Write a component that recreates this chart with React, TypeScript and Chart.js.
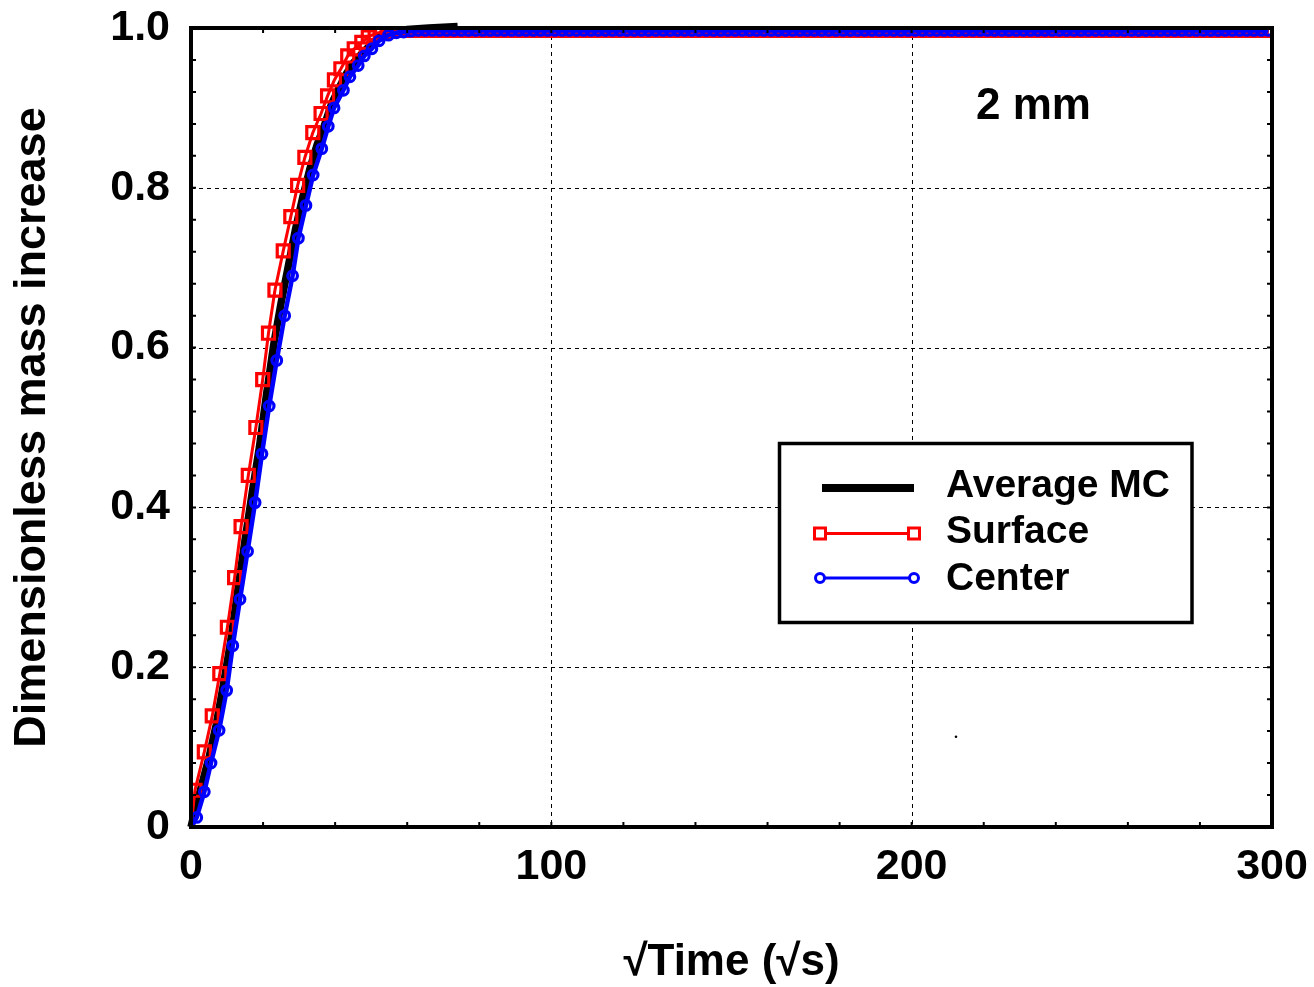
import React, { useEffect, useRef } from 'react';
import { Chart, registerables } from 'chart.js';

Chart.register(...registerables);

// ---- Data ----
const avgX = [0, 1, 3, 5, 7, 9, 11, 13, 15, 17, 19, 21, 23, 25, 27, 29, 31, 33, 35, 37, 39, 41, 43, 45, 47, 49, 52, 55, 60, 66, 74];
const avgY = [0, 0.019, 0.053, 0.087, 0.128, 0.178, 0.232, 0.297, 0.359, 0.419, 0.476, 0.543, 0.605, 0.656, 0.702, 0.748, 0.788, 0.824, 0.854, 0.878, 0.905, 0.924, 0.942, 0.956, 0.966, 0.975, 0.988, 0.994, 0.998, 1.0, 1.002];

const surfaceHeadX = [0, 1.1, 3.7, 5.9, 8.0, 10.1, 12.1, 13.9, 15.9, 18.0, 19.9, 21.5, 23.3, 25.6, 27.7, 29.6, 31.6, 33.8, 36.1, 37.9, 39.8, 41.6, 43.5, 45.3, 47.4, 49.2, 51.1, 52.9];
const surfaceHeadY = [0, 0.046, 0.094, 0.139, 0.192, 0.25, 0.312, 0.376, 0.44, 0.5, 0.56, 0.618, 0.672, 0.721, 0.764, 0.803, 0.838, 0.869, 0.893, 0.915, 0.935, 0.949, 0.965, 0.974, 0.982, 0.989, 0.993, 0.995];
const surfaceTailX = [
  55, 57, 59, 61, 63, 65, 67, 69, 71, 73,
  75, 77, 79, 81, 83, 85, 87, 89, 91, 93,
  95, 97, 99, 101, 103, 105, 107, 109, 111, 113,
  115, 117, 119, 121, 123, 125, 127, 129, 131, 133,
  135, 137, 139, 141, 143, 145, 147, 149, 151, 153,
  155, 157, 159, 161, 163, 165, 167, 169, 171, 173,
  175, 177, 179, 181, 183, 185, 187, 189, 191, 193,
  195, 197, 199, 201, 203, 205, 207, 209, 211, 213,
  215, 217, 219, 221, 223, 225, 227, 229, 231, 233,
  235, 237, 239, 241, 243, 245, 247, 249, 251, 253,
  255, 257, 259, 261, 263, 265, 267, 269, 271, 273,
  275, 277, 279, 281, 283, 285, 287, 289, 291, 293,
  295, 297, 299,
];
const surfaceTailY = [
  0.996,
  0.997, 0.997, 0.997, 0.997, 0.997, 0.997, 0.997, 0.997, 0.997, 0.997,
  0.997, 0.997, 0.997, 0.997, 0.997, 0.997, 0.997, 0.997, 0.997, 0.997,
  0.997, 0.997, 0.997, 0.997, 0.997, 0.997, 0.997, 0.997, 0.997, 0.997,
  0.997, 0.997, 0.997, 0.997, 0.997, 0.997, 0.997, 0.997, 0.997, 0.997,
  0.997, 0.997, 0.997, 0.997, 0.997, 0.997, 0.997, 0.997, 0.997, 0.997,
  0.997, 0.997, 0.997, 0.997, 0.997, 0.997, 0.997, 0.997, 0.997, 0.997,
  0.997, 0.997, 0.997, 0.997, 0.997, 0.997, 0.997, 0.997, 0.997, 0.997,
  0.997, 0.997, 0.997, 0.997, 0.997, 0.997, 0.997, 0.997, 0.997, 0.997,
  0.997, 0.997, 0.997, 0.997, 0.997, 0.997, 0.997, 0.997, 0.997, 0.997,
  0.997, 0.997, 0.997, 0.997, 0.997, 0.997, 0.997, 0.997, 0.997, 0.997,
  0.997, 0.997, 0.997, 0.997, 0.997, 0.997, 0.997, 0.997, 0.997, 0.997,
  0.997, 0.997, 0.997, 0.997, 0.997, 0.997, 0.997, 0.997, 0.997, 0.997,
  0.997, 0.997,
];

const centerHeadX = [0, 1.6, 3.7, 5.55, 7.8, 9.9, 11.6, 13.6, 15.7, 17.8, 19.7, 21.7, 23.8, 26.0, 28.2, 29.8, 31.9, 33.9, 36.3, 38.1, 39.7, 42.3, 44.1, 46.4, 48.1, 50.2, 52.2, 54.8];
const centerHeadY = [0, 0.012, 0.044, 0.08, 0.121, 0.171, 0.227, 0.285, 0.345, 0.406, 0.467, 0.527, 0.584, 0.64, 0.69, 0.737, 0.778, 0.816, 0.849, 0.877, 0.9, 0.922, 0.939, 0.953, 0.965, 0.974, 0.984, 0.991];
const centerTailX = [
  57, 59, 61, 63, 65, 67, 69, 71, 73, 75,
  77, 79, 81, 83, 85, 87, 89, 91, 93, 95,
  97, 99, 101, 103, 105, 107, 109, 111, 113, 115,
  117, 119, 121, 123, 125, 127, 129, 131, 133, 135,
  137, 139, 141, 143, 145, 147, 149, 151, 153, 155,
  157, 159, 161, 163, 165, 167, 169, 171, 173, 175,
  177, 179, 181, 183, 185, 187, 189, 191, 193, 195,
  197, 199, 201, 203, 205, 207, 209, 211, 213, 215,
  217, 219, 221, 223, 225, 227, 229, 231, 233, 235,
  237, 239, 241, 243, 245, 247, 249, 251, 253, 255,
  257, 259, 261, 263, 265, 267, 269, 271, 273, 275,
  277, 279, 281, 283, 285, 287, 289, 291, 293, 295,
  297, 299,
];
const centerTailY = [
  0.994, 0.995, 0.996,
  0.997, 0.997, 0.997, 0.997, 0.997, 0.997, 0.997, 0.997, 0.997, 0.997,
  0.997, 0.997, 0.997, 0.997, 0.997, 0.997, 0.997, 0.997, 0.997, 0.997,
  0.997, 0.997, 0.997, 0.997, 0.997, 0.997, 0.997, 0.997, 0.997, 0.997,
  0.997, 0.997, 0.997, 0.997, 0.997, 0.997, 0.997, 0.997, 0.997, 0.997,
  0.997, 0.997, 0.997, 0.997, 0.997, 0.997, 0.997, 0.997, 0.997, 0.997,
  0.997, 0.997, 0.997, 0.997, 0.997, 0.997, 0.997, 0.997, 0.997, 0.997,
  0.997, 0.997, 0.997, 0.997, 0.997, 0.997, 0.997, 0.997, 0.997, 0.997,
  0.997, 0.997, 0.997, 0.997, 0.997, 0.997, 0.997, 0.997, 0.997, 0.997,
  0.997, 0.997, 0.997, 0.997, 0.997, 0.997, 0.997, 0.997, 0.997, 0.997,
  0.997, 0.997, 0.997, 0.997, 0.997, 0.997, 0.997, 0.997, 0.997, 0.997,
  0.997, 0.997, 0.997, 0.997, 0.997, 0.997, 0.997, 0.997, 0.997, 0.997,
  0.997, 0.997, 0.997, 0.997, 0.997, 0.997, 0.997, 0.997, 0.997,
];

// stray dot visible in the reference
const strayX = [212.3];
const strayY = [0.113];

const seriesNames = ['Average MC', 'Surface', 'Center'];
const xTickLabels = ['0', '100', '200', '300'];
const yTickLabels = ['0', '0.2', '0.4', '0.6', '0.8', '1.0'];
const xGridValues = [100, 200];
const yGridValues = [0.2, 0.4, 0.6, 0.8];
const xTitle = '√Time (√s)';
const yTitle = 'Dimensionless mass increase';
const panelLabel = '2 mm';

const FONT = '"Liberation Sans", Arial, Helvetica, sans-serif';

const zip = (xs: number[], ys: number[]) => xs.map((x, i) => ({ x, y: ys[i] }));

const noPad = (s: any) => {
  s.paddingTop = 0;
  s.paddingBottom = 0;
  s.paddingLeft = 0;
  s.paddingRight = 0;
};

const framePlugin = {
  id: 'frame',
  beforeDatasetsDraw(chart: any) {
    const { ctx, chartArea: a, scales } = chart;
    const x = scales.x;
    const y = scales.y;
    ctx.save();
    ctx.strokeStyle = '#000';
    ctx.lineWidth = 1;
    ctx.setLineDash([4, 4]);
    for (const gx of xGridValues) {
      const px = Math.round(x.getPixelForValue(gx)) + 0.5;
      ctx.beginPath();
      ctx.moveTo(px, a.top);
      ctx.lineTo(px, a.bottom);
      ctx.stroke();
    }
    for (const gy of yGridValues) {
      const py = Math.round(y.getPixelForValue(gy)) + 0.5;
      ctx.beginPath();
      ctx.moveTo(a.left, py);
      ctx.lineTo(a.right, py);
      ctx.stroke();
    }
    ctx.restore();
  },
  afterDatasetsDraw(chart: any) {
    const { ctx, chartArea: a, scales } = chart;
    const x = scales.x;
    const y = scales.y;
    ctx.save();
    ctx.strokeStyle = '#000';
    ctx.lineWidth = 4;
    ctx.strokeRect(a.left, a.top, a.right - a.left, a.bottom - a.top);
    // minor ticks (inward)
    ctx.lineWidth = 2;
    const tl = 5;
    for (let v = 20; v < 300; v += 20) {
      const px = x.getPixelForValue(v);
      ctx.beginPath();
      ctx.moveTo(px, a.bottom);
      ctx.lineTo(px, a.bottom - tl);
      ctx.moveTo(px, a.top);
      ctx.lineTo(px, a.top + tl);
      ctx.stroke();
    }
    for (let k = 1; k < 25; k++) {
      const py = y.getPixelForValue(k * 0.04);
      ctx.beginPath();
      ctx.moveTo(a.left, py);
      ctx.lineTo(a.left + tl, py);
      ctx.moveTo(a.right, py);
      ctx.lineTo(a.right - tl, py);
      ctx.stroke();
    }
    ctx.restore();
  },
  afterDraw(chart: any) {
    const { ctx } = chart;
    ctx.save();
    // panel label
    ctx.fillStyle = '#000';
    ctx.font = `bold 44px ${FONT}`;
    ctx.textAlign = 'left';
    ctx.textBaseline = 'alphabetic';
    ctx.fillText(panelLabel, 976, 119);

    // legend box
    ctx.fillStyle = '#fff';
    ctx.fillRect(779.5, 443.5, 412.5, 179);
    ctx.strokeStyle = '#000';
    ctx.lineWidth = 3.5;
    ctx.strokeRect(779.5, 443.5, 412.5, 179);

    // Average MC
    ctx.lineWidth = 8;
    ctx.beginPath();
    ctx.moveTo(822, 488);
    ctx.lineTo(914, 488);
    ctx.stroke();

    // Surface
    ctx.strokeStyle = '#ff0000';
    ctx.lineWidth = 3;
    ctx.beginPath();
    ctx.moveTo(820, 533.5);
    ctx.lineTo(914, 533.5);
    ctx.stroke();
    ctx.lineWidth = 3;
    for (const cx of [820, 914]) {
      ctx.fillStyle = '#fff';
      ctx.fillRect(cx - 5.5, 528, 11, 11);
      ctx.strokeRect(cx - 5.5, 528, 11, 11);
    }

    // Center
    ctx.strokeStyle = '#0000ff';
    ctx.lineWidth = 3;
    ctx.beginPath();
    ctx.moveTo(820, 578);
    ctx.lineTo(914, 578);
    ctx.stroke();
    ctx.lineWidth = 3;
    for (const cx of [820, 914]) {
      ctx.beginPath();
      ctx.arc(cx, 578, 4.5, 0, Math.PI * 2);
      ctx.fillStyle = '#fff';
      ctx.fill();
      ctx.stroke();
    }

    ctx.fillStyle = '#000';
    ctx.font = `bold 39px ${FONT}`;
    ctx.textAlign = 'left';
    ctx.textBaseline = 'alphabetic';
    ctx.fillText(seriesNames[0], 946, 497);
    ctx.fillText(seriesNames[1], 946, 543);
    ctx.fillText(seriesNames[2], 946, 590);
    ctx.restore();
  },
};

export default function App() {
  const ref = useRef<HTMLCanvasElement>(null);

  useEffect(() => {
    const canvas = ref.current;
    if (!canvas) return;
    const chart = new Chart(canvas, {
      type: 'scatter',
      data: {
        datasets: [
          {
            label: seriesNames[2],
            data: zip(centerHeadX.concat(centerTailX), centerHeadY.concat(centerTailY)),
            showLine: true,
            borderColor: '#0000ff',
            borderWidth: 4.5,
            pointStyle: 'circle',
            pointRadius: (c: any) => (c.dataIndex === 0 ? 0 : 4.8),
            pointBorderWidth: 3.2,
            pointBorderColor: '#0000ff',
            pointBackgroundColor: 'rgba(255,255,255,0)',
            order: 0,
          },
          {
            label: seriesNames[1],
            data: zip(surfaceHeadX.concat(surfaceTailX), surfaceHeadY.concat(surfaceTailY)),
            showLine: true,
            borderColor: '#ff0000',
            borderWidth: 3,
            pointStyle: 'rect',
            pointRadius: (c: any) => (c.dataIndex === 0 ? 0 : 8.5),
            pointBorderWidth: 3.2,
            pointBorderColor: '#ff0000',
            pointBackgroundColor: 'rgba(255,255,255,0)',
            order: 1,
          },
          {
            label: seriesNames[0],
            data: zip(avgX, avgY),
            showLine: true,
            borderColor: '#000000',
            borderWidth: 7.5,
            pointRadius: 0,
            order: 2,
            clip: 6,
          },
          {
            label: 'dot',
            data: zip(strayX, strayY),
            showLine: false,
            pointRadius: 1.3,
            pointBorderWidth: 0,
            pointBackgroundColor: '#000',
            order: 3,
          },
        ],
      } as any,
      options: {
        animation: false,
        responsive: false,
        devicePixelRatio: 1,
        events: [],
        layout: { padding: { left: 0, top: 28, right: 42, bottom: 0 } },
        plugins: {
          legend: { display: false },
          tooltip: { enabled: false },
        },
        scales: {
          x: {
            type: 'linear',
            min: 0,
            max: 300,
            afterFit: (s: any) => {
              s.height = 160;
              noPad(s);
            },
            grid: { display: false, drawTicks: false },
            border: { display: false },
            ticks: {
              stepSize: 100,
              autoSkip: false,
              maxRotation: 0,
              padding: 14,
              color: '#000',
              font: { family: FONT, size: 43, weight: 'bold' },
              callback: (_v: any, i: number) => xTickLabels[i],
            },
            title: {
              display: true,
              text: xTitle,
              color: '#000',
              padding: { top: 0, bottom: 2 },
              font: { family: FONT, size: 44, weight: 'bold', lineHeight: 1 },
            },
          },
          y: {
            type: 'linear',
            min: 0,
            max: 1,
            afterFit: (s: any) => {
              s.width = 191;
              noPad(s);
            },
            grid: { display: false, drawTicks: false },
            border: { display: false },
            ticks: {
              stepSize: 0.2,
              autoSkip: false,
              padding: 21,
              color: '#000',
              font: { family: FONT, size: 43, weight: 'bold' },
              callback: (_v: any, i: number) => yTickLabels[i],
            },
            title: {
              display: true,
              text: yTitle,
              color: '#000',
              padding: { top: 10, bottom: 0 },
              font: { family: FONT, size: 45, weight: 'bold', lineHeight: 1 },
            },
          },
        },
      } as any,
      plugins: [framePlugin],
    });
    return () => chart.destroy();
  }, []);

  return (
    <div style={{ position: 'fixed', left: 0, top: 0, width: 1314, height: 987, background: '#fff' }}>
      <canvas ref={ref} width={1314} height={987} style={{ display: 'block', width: 1314, height: 987 }} />
    </div>
  );
}
